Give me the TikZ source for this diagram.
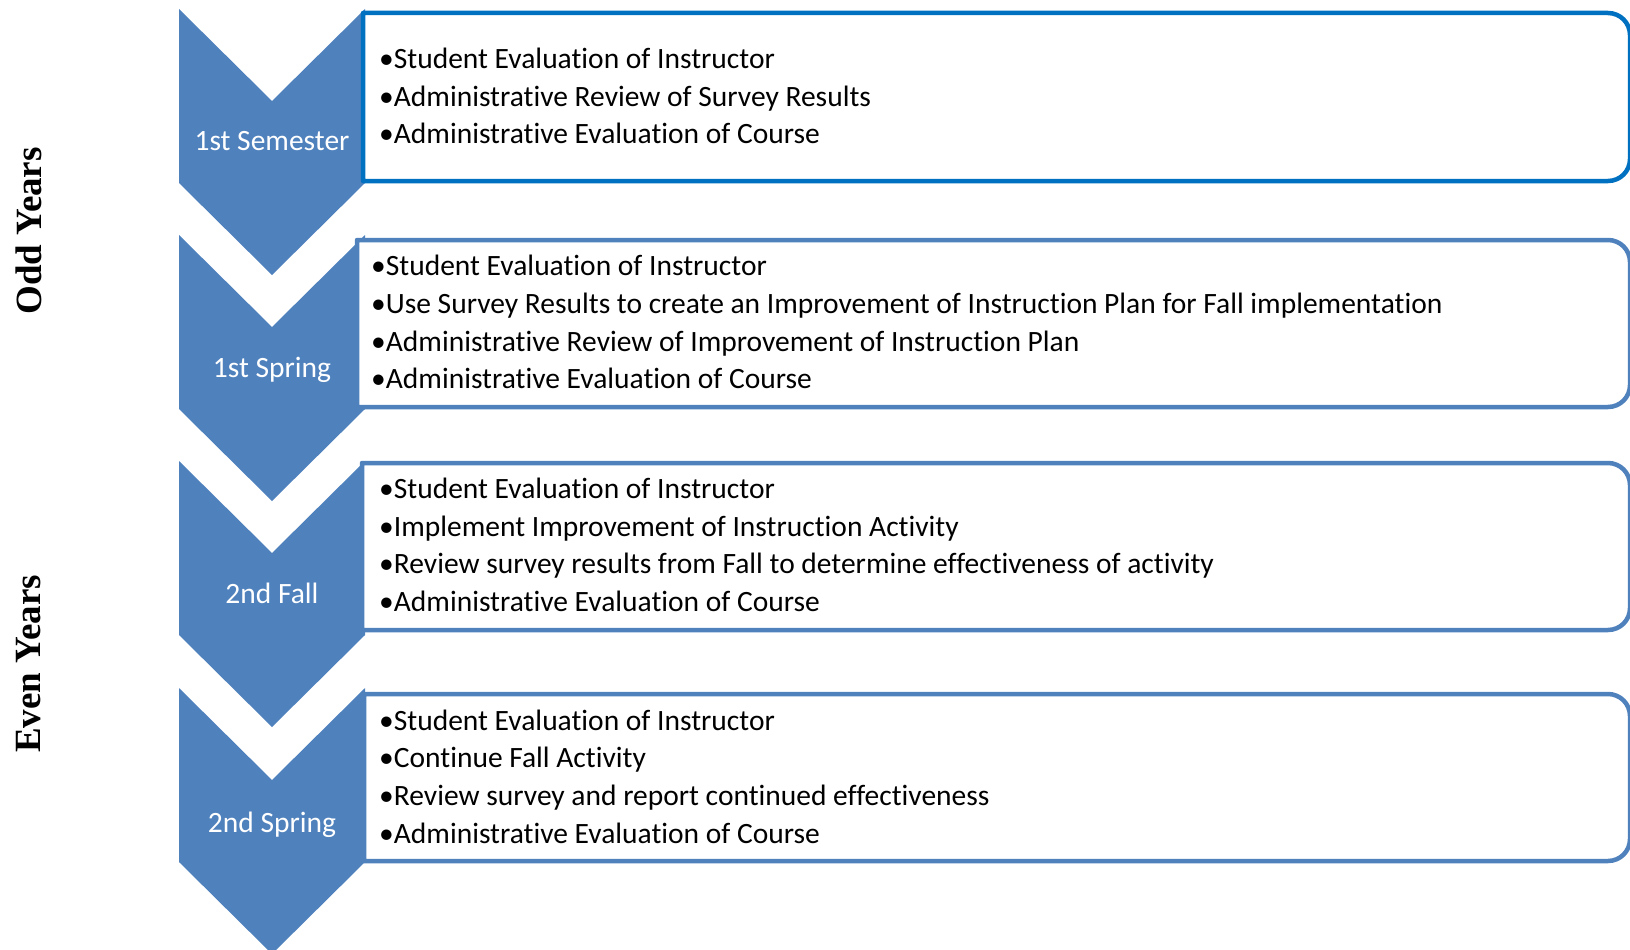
\documentclass[tikz,border=0pt]{standalone}
\usepackage{fontspec}
\setmainfont{Carlito}[Ligatures={NoCommon}]
\newfontfamily\yearfont{Liberation Serif}
\definecolor{chev}{HTML}{4F81BD}
\definecolor{boxa}{HTML}{0070C0}
\definecolor{boxb}{HTML}{4F81BD}
\tikzset{
  chevshape/.style={fill=chev, draw=none},
  boxshape/.style={fill=white, line width=4.5pt, line join=round},
  item/.style={anchor=base west, inner sep=0pt, font=\fontsize{29.5}{36}\selectfont, text=black},
  chevlabel/.style={anchor=base, inner sep=0pt, font=\fontsize{29.5}{36}\selectfont, text=white},
  yearlabel/.style={rotate=90, inner sep=0pt, font=\yearfont\bfseries\fontsize{37}{40}\selectfont}
}
\newcommand{\chevron}[1]{%
  \fill[chevshape] (179,-#1) -- (272,-#1-92) -- (365,-#1) -- (365,-#1-174) -- (272,-#1-266) -- (179,-#1-174) -- cycle;}
\newcommand{\roundbox}[4]{% color, left, top, bottom
  \draw[boxshape, draw=#1] (#2,-#3) -- (1608,-#3) arc[start angle=90, end angle=0, radius=22pt] -- (1630,-#4+22) arc[start angle=0, end angle=-90, radius=22pt] -- (#2,-#4) -- cycle;}
\begin{document}
\begin{tikzpicture}[x=1pt,y=1pt]
\useasboundingbox (0,0) rectangle (1630,-950);
% chevrons
\chevron{9}
\chevron{235}
\chevron{461}
\chevron{688}
% boxes
\roundbox{boxa}{363}{13}{181}
\roundbox{boxb}{357}{240}{407}
\roundbox{boxb}{362}{463}{630}
\roundbox{boxb}{364}{694}{861}
% chevron labels
\node[chevlabel] (l1) at (272,-150) {1st Semester};
\node[chevlabel] (l2) at (272,-377) {1st Spring};
\node[chevlabel] (l3) at (272,-603) {2nd Fall};
\node[chevlabel] (l4) at (272,-832) {2nd Spring};
% box 1 items
\node[item] (a1) at (379,-69) {•Student Evaluation of Instructor};
\node[item] (a2) at (379,-106) {•Administrative Review of Survey Results};
\node[item] (a3) at (379,-143) {•Administrative Evaluation of Course};
% box 2 items
\node[item] (b1) at (371,-275) {•Student Evaluation of Instructor};
\node[item] (b2) at (371,-313) {•Use Survey Results to create an Improvement of Instruction Plan for Fall implementation};
\node[item] (b3) at (371,-351) {•Administrative Review of Improvement of Instruction Plan};
\node[item] (b4) at (371,-388) {•Administrative Evaluation of Course};
% box 3 items
\node[item] (c1) at (379,-498) {•Student Evaluation of Instructor};
\node[item] (c2) at (379,-536) {•Implement Improvement of Instruction Activity};
\node[item] (c3) at (379,-573) {•Review survey results from Fall to determine effectiveness of activity};
\node[item] (c4) at (379,-611) {•Administrative Evaluation of Course};
% box 4 items
\node[item] (d1) at (379,-730) {•Student Evaluation of Instructor};
\node[item] (d2) at (379,-767) {•Continue Fall Activity};
\node[item] (d3) at (379,-805) {•Review survey and report continued effectiveness};
\node[item] (d4) at (379,-843) {•Administrative Evaluation of Course};
% year labels
\node[yearlabel] (odd) at (29,-231) {Odd Years};
\node[yearlabel] (even) at (29,-664) {Even Years};
\end{tikzpicture}
\end{document}
